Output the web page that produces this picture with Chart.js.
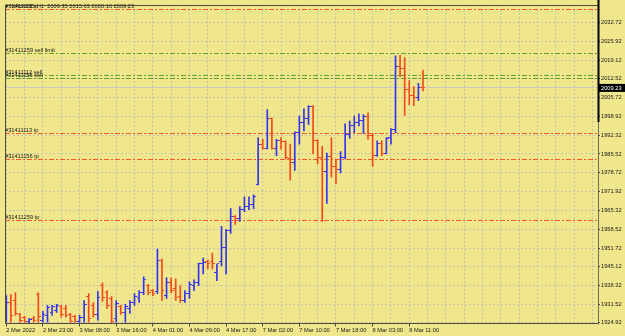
<!DOCTYPE html>
<html>
<head>
<meta charset="utf-8">
<script src="https://cdn.jsdelivr.net/npm/chart.js@4.4.0/dist/chart.umd.min.js"></script>
<style>
  html, body { margin: 0; padding: 0; background: #F0E68C; }
  canvas { display: block; }
</style>
</head>
<body>
<canvas id="chart" width="625" height="336"></canvas>
<script>
// XAUUSD H1 bars, one entry per hour bar (oldest first)
const opens = [1927.58, 1932.19, 1932.90, 1927.94, 1926.87, 1925.45, 1926.52, 1935.03, 1925.81, 1927.58,
  1928.64, 1929.35, 1930.77, 1930.06, 1927.94, 1927.23, 1925.45, 1926.87, 1934.32, 1931.13,
  1927.94, 1938.22, 1935.74, 1933.61, 1926.52, 1930.77, 1928.64, 1930.06, 1932.19, 1933.96,
  1935.74, 1938.22, 1936.45, 1936.09, 1947.44, 1934.67, 1939.28, 1937.16, 1934.32, 1932.90,
  1935.38, 1938.22, 1939.28, 1946.02, 1947.08, 1947.08, 1942.83, 1947.08, 1952.05, 1958.08,
  1963.04, 1962.33, 1965.52, 1966.59, 1967.30, 1974.50, 1988.82, 1987.51, 1998.25, 1987.51,
  1990.24, 1989.88, 1983.71, 1982.54, 1993.18, 1996.73, 1998.15, 2002.65, 1990.24, 1984.32,
  1979.25, 1984.57, 1981.02, 1979.81, 1984.32, 1992.47, 1995.91, 1996.98, 1997.69, 1998.86,
  1992.01, 1984.92, 1989.28, 1985.74, 1991.41, 1994.14, 2017.05, 2016.23, 2008.78, 2006.41,
  2005.95, 2009.35];
const highs = [1934.67, 1935.03, 1935.74, 1928.29, 1927.23, 1926.52, 1927.23, 1935.74, 1929.00, 1931.13,
  1931.13, 1931.48, 1931.13, 1931.13, 1928.29, 1927.58, 1927.58, 1932.90, 1935.38, 1932.19,
  1936.09, 1939.28, 1936.45, 1934.32, 1932.90, 1931.13, 1931.48, 1932.90, 1935.38, 1936.45,
  1941.41, 1938.57, 1936.80, 1951.34, 1947.79, 1941.06, 1941.06, 1940.70, 1938.22, 1936.45,
  1939.64, 1940.35, 1946.37, 1948.15, 1947.44, 1949.92, 1946.02, 1959.49, 1958.43, 1965.88,
  1963.39, 1966.59, 1970.13, 1970.13, 1970.84, 1991.41, 1990.81, 2001.44, 1998.50, 1990.81,
  1991.41, 1990.24, 1989.03, 1993.43, 1999.10, 2001.69, 2002.86, 2002.86, 1990.70, 1988.22,
  1985.84, 1991.41, 1983.71, 1986.34, 1996.37, 1997.33, 1999.10, 1999.92, 1999.67, 2000.27,
  1992.93, 1990.24, 1990.24, 1991.41, 1994.60, 2020.73, 2020.95, 2020.13, 2011.87, 2009.74,
  2010.91, 2015.63];
const lows = [1925.10, 1925.10, 1927.58, 1925.10, 1925.10, 1924.92, 1925.10, 1925.10, 1925.10, 1925.10,
  1927.58, 1928.64, 1926.87, 1926.87, 1925.10, 1925.10, 1925.10, 1925.10, 1925.10, 1926.87,
  1925.81, 1932.55, 1930.06, 1924.92, 1925.10, 1927.94, 1925.10, 1928.29, 1931.13, 1932.19,
  1935.03, 1935.03, 1934.67, 1935.38, 1932.90, 1933.61, 1935.74, 1932.90, 1932.19, 1932.19,
  1933.61, 1936.45, 1938.22, 1942.47, 1944.25, 1944.25, 1939.99, 1945.31, 1942.47, 1957.01,
  1960.20, 1961.27, 1964.81, 1965.52, 1965.88, 1974.39, 1987.26, 1987.30, 1987.26, 1984.92,
  1987.26, 1983.71, 1976.06, 1979.60, 1989.03, 1993.79, 1996.13, 1985.49, 1981.94, 1961.27,
  1967.76, 1977.22, 1974.85, 1978.75, 1983.71, 1991.05, 1993.18, 1995.56, 1992.93, 1990.81,
  1981.02, 1984.67, 1984.92, 1985.50, 1989.03, 1993.18, 2013.29, 1999.32, 2003.22, 2002.86,
  2004.78, 2008.16];
const closes = [1932.19, 1927.58, 1928.29, 1925.81, 1925.45, 1926.16, 1925.81, 1927.23, 1927.94, 1930.42,
  1930.77, 1931.13, 1927.94, 1927.58, 1925.45, 1925.45, 1926.87, 1931.48, 1926.52, 1927.94,
  1933.96, 1933.96, 1931.13, 1925.45, 1931.84, 1928.64, 1930.77, 1932.19, 1934.32, 1935.74,
  1940.35, 1935.74, 1935.38, 1947.44, 1936.45, 1939.28, 1936.45, 1933.96, 1932.90, 1935.38,
  1938.57, 1939.28, 1946.02, 1946.37, 1946.02, 1946.02, 1946.02, 1952.05, 1958.08, 1963.04,
  1962.33, 1965.52, 1966.59, 1967.30, 1970.13, 1988.82, 1987.51, 1998.25, 1987.51, 1990.24,
  1989.88, 1984.32, 1982.54, 1993.18, 1996.73, 1998.15, 2002.65, 1990.24, 1984.32, 1979.25,
  1984.57, 1981.02, 1979.81, 1984.32, 1992.47, 1995.91, 1996.98, 1997.69, 1998.86, 1992.01,
  1984.92, 1989.28, 1985.74, 1991.20, 1994.14, 2017.05, 2016.23, 2008.78, 2006.41, 2005.95,
  2009.39, 2009.23];

// time scale labels, one every 8 bars
const timeLabels = ['2 Mar 2022', '2 Mar 23:00', '3 Mar 08:00', '3 Mar 16:00', '4 Mar 01:00', '4 Mar 09:00',
  '4 Mar 17:00', '7 Mar 02:00', '7 Mar 10:00', '7 Mar 18:00', '8 Mar 03:00', '8 Mar 11:00'];
const labelEvery = 8;
const gridEvery = 4;

// price scale labels
const priceTicks = [1924.92, 1931.52, 1938.32, 1945.12, 1951.72, 1958.52, 1965.32, 1971.92, 1978.72,
  1985.52, 1992.32, 1998.92, 2005.72, 2012.52, 2019.12, 2025.92, 2032.72];

// order levels drawn as horizontal lines
const orderNames = ['#31411113 sl', '#31411259 sell limit', '#31411112 sell', '#31411156 sell',
  '#31411113 tp', '#31411156 tp', '#31411259 tp'];
const orderPrices = [2037.51, 2021.55, 2013.64, 2012.69, 1992.83, 1983.50, 1961.50];
const orderKinds = ['stop', 'trade', 'trade', 'trade', 'stop', 'stop', 'stop'];

const symbolName = 'XAUUSD,H1';

const bgColor = '#F0E68C';
const upColor = '#3434F2';
const downColor = '#F24A1C';
const stopColor = '#F5582A';
const tradeColor = '#62A02C';
const gridColor = '#C6C2AE';
const textColor = '#1A1A1A';
const fontFamily = '"Liberation Sans", Arial, sans-serif';
const fontSize = 5.7;

const isUp = i => closes[i] >= opens[i];

// small images for open (left) and close (right) ticks
function tickImage(color, side) {
  const cv = document.createElement('canvas');
  cv.width = 5;
  cv.height = 1;
  const g = cv.getContext('2d');
  g.fillStyle = color;
  g.fillRect(side === 'open' ? 0 : 3, 0, 2, 1);
  return cv;
}
const openUp = tickImage(upColor, 'open');
const openDown = tickImage(downColor, 'open');
const closeUp = tickImage(upColor, 'close');
const closeDown = tickImage(downColor, 'close');

const rangeData = highs.map((h, i) => ({ x: i, y: [lows[i], h] }));
const openData = opens.map((o, i) => ({ x: i, y: o }));
const closeData = closes.map((c, i) => ({ x: i, y: c }));

const xMin = -0.282;
const xMax = 129.22;
const lastIdx = closes.length - 1;

const font = () => `${fontSize}px ${fontFamily}`;
// row of pixels that holds a price, so the level lines stay crisp
const rowOf = (scale, p) => Math.floor(scale.getPixelForValue(p)) + 0.5;

const mt4Plugin = {
  id: 'mt4',
  beforeDraw(chart) {
    const c = chart.ctx;
    c.save();
    c.fillStyle = bgColor;
    c.fillRect(0, 0, chart.width, chart.height);
    c.restore();
  },
  beforeDatasetsDraw(chart) {
    const c = chart.ctx;
    const a = chart.chartArea;
    const y = chart.scales.y;
    c.save();
    c.beginPath();
    c.rect(a.left, a.top, a.right - a.left, a.bottom - a.top);
    c.clip();
    c.lineWidth = 1;

    // bid line
    const by = rowOf(y, closes[lastIdx]);
    c.strokeStyle = '#CBC9BE';
    c.beginPath();
    c.moveTo(a.left, by);
    c.lineTo(a.right, by);
    c.stroke();

    // order lines
    c.setLineDash([5, 2, 2, 2]);
    orderPrices.forEach((p, k) => {
      const ly = rowOf(y, p);
      c.strokeStyle = orderKinds[k] === 'stop' ? stopColor : tradeColor;
      c.beginPath();
      c.moveTo(a.left, ly);
      c.lineTo(a.right, ly);
      c.stroke();
    });
    c.restore();
  },
  afterDatasetsDraw(chart) {
    const c = chart.ctx;
    const y = chart.scales.y;
    c.save();
    c.font = font();
    c.textBaseline = 'alphabetic';
    c.textAlign = 'left';

    // title with its own background
    const title = `${symbolName}  ${opens[lastIdx].toFixed(2)} ${highs[lastIdx].toFixed(2)} ${lows[lastIdx].toFixed(2)} ${closes[lastIdx].toFixed(2)}`;
    const tw = c.measureText(title).width;
    c.fillStyle = bgColor;
    c.fillRect(3, 2, tw + 10, 7);
    c.fillStyle = textColor;
    c.fillText('\u25BC', 4, 8);
    c.fillText(title, 11.5, 8);

    // order labels just above their lines
    orderPrices.forEach((p, k) => {
      c.fillText(orderNames[k], 5, rowOf(y, p) - 2);
    });
    c.restore();
  },
  afterDraw(chart) {
    const c = chart.ctx;
    const a = chart.chartArea;
    const y = chart.scales.y;
    c.save();
    // frame
    c.strokeStyle = '#4E4B3A';
    c.lineWidth = 1;
    c.beginPath();
    c.moveTo(a.left + 0.5, a.top + 0.5);
    c.lineTo(a.right, a.top + 0.5);
    c.moveTo(a.left + 0.5, a.top);
    c.lineTo(a.left + 0.5, a.bottom);
    c.lineTo(a.right, a.bottom);
    c.stroke();
    c.strokeStyle = '#6A6A60';
    c.beginPath();
    c.moveTo(a.right + 0.5, a.top);
    c.lineTo(a.right + 0.5, a.bottom + 1);
    c.stroke();
    c.fillStyle = '#000000';
    c.fillRect(a.right - 0.5, 0, 2, 122);

    // current price box
    const py = y.getPixelForValue(closes[lastIdx]);
    c.fillStyle = '#000000';
    c.fillRect(a.right, py - 4, chart.width - a.right, 8);
    c.fillStyle = '#FFFFFF';
    c.font = font();
    c.textBaseline = 'middle';
    c.fillText(closes[lastIdx].toFixed(2), a.right + 3, py + 0.5);
    c.restore();
  }
};

new Chart(document.getElementById('chart'), {
  type: 'bar',
  data: {
    datasets: [
      {
        type: 'scatter',
        data: openData,
        pointStyle: ctx => (isUp(ctx.dataIndex) ? openUp : openDown),
        pointRadius: 2,
        order: 0
      },
      {
        type: 'scatter',
        data: closeData,
        pointStyle: ctx => (isUp(ctx.dataIndex) ? closeUp : closeDown),
        pointRadius: 2,
        order: 0
      },
      {
        type: 'bar',
        data: rangeData,
        backgroundColor: ctx => (isUp(ctx.dataIndex) ? upColor : downColor),
        borderWidth: 0,
        borderSkipped: false,
        barThickness: 1,
        grouped: false,
        order: 1
      }
    ]
  },
  options: {
    responsive: false,
    animation: false,
    devicePixelRatio: 1,
    layout: { padding: { left: 1, top: 1, right: 0, bottom: 0 } },
    plugins: { legend: { display: false }, tooltip: { enabled: false } },
    scales: {
      x: {
        type: 'linear',
        min: xMin,
        max: xMax,
        offset: false,
        afterBuildTicks: s => {
          const t = [];
          for (let v = 0; v <= xMax; v += gridEvery) t.push({ value: v });
          s.ticks = t;
        },
        afterFit: s => { s.height = 12.5; },
        grid: {
          offset: false,
          color: gridColor,
          lineWidth: 1,
          tickLength: 3,
          tickColor: ctx => {
            const v = ctx.tick ? ctx.tick.value : -1;
            return (v % labelEvery === 0 && v / labelEvery < timeLabels.length) ? '#444444' : 'rgba(0,0,0,0)';
          }
        },
        border: { display: false, dash: [2, 2] },
        ticks: {
          autoSkip: false,
          maxRotation: 0,
          align: 'start',
          padding: 1,
          color: textColor,
          font: { family: fontFamily, size: fontSize },
          callback: v => (v % labelEvery === 0 && v / labelEvery < timeLabels.length) ? timeLabels[v / labelEvery] : ''
        }
      },
      y: {
        type: 'linear',
        position: 'right',
        min: 1924.64,
        max: 2039.0,
        afterBuildTicks: s => { s.ticks = priceTicks.map(v => ({ value: v })); },
        afterFit: s => { s.width = 27; },
        grid: {
          color: gridColor,
          lineWidth: 1,
          tickLength: 2,
          tickColor: '#444444'
        },
        border: { display: false, dash: [2, 2] },
        ticks: {
          autoSkip: false,
          padding: 1,
          color: textColor,
          font: { family: fontFamily, size: fontSize },
          callback: v => v.toFixed(2)
        }
      }
    }
  },
  plugins: [mt4Plugin]
});
</script>
</body>
</html>
